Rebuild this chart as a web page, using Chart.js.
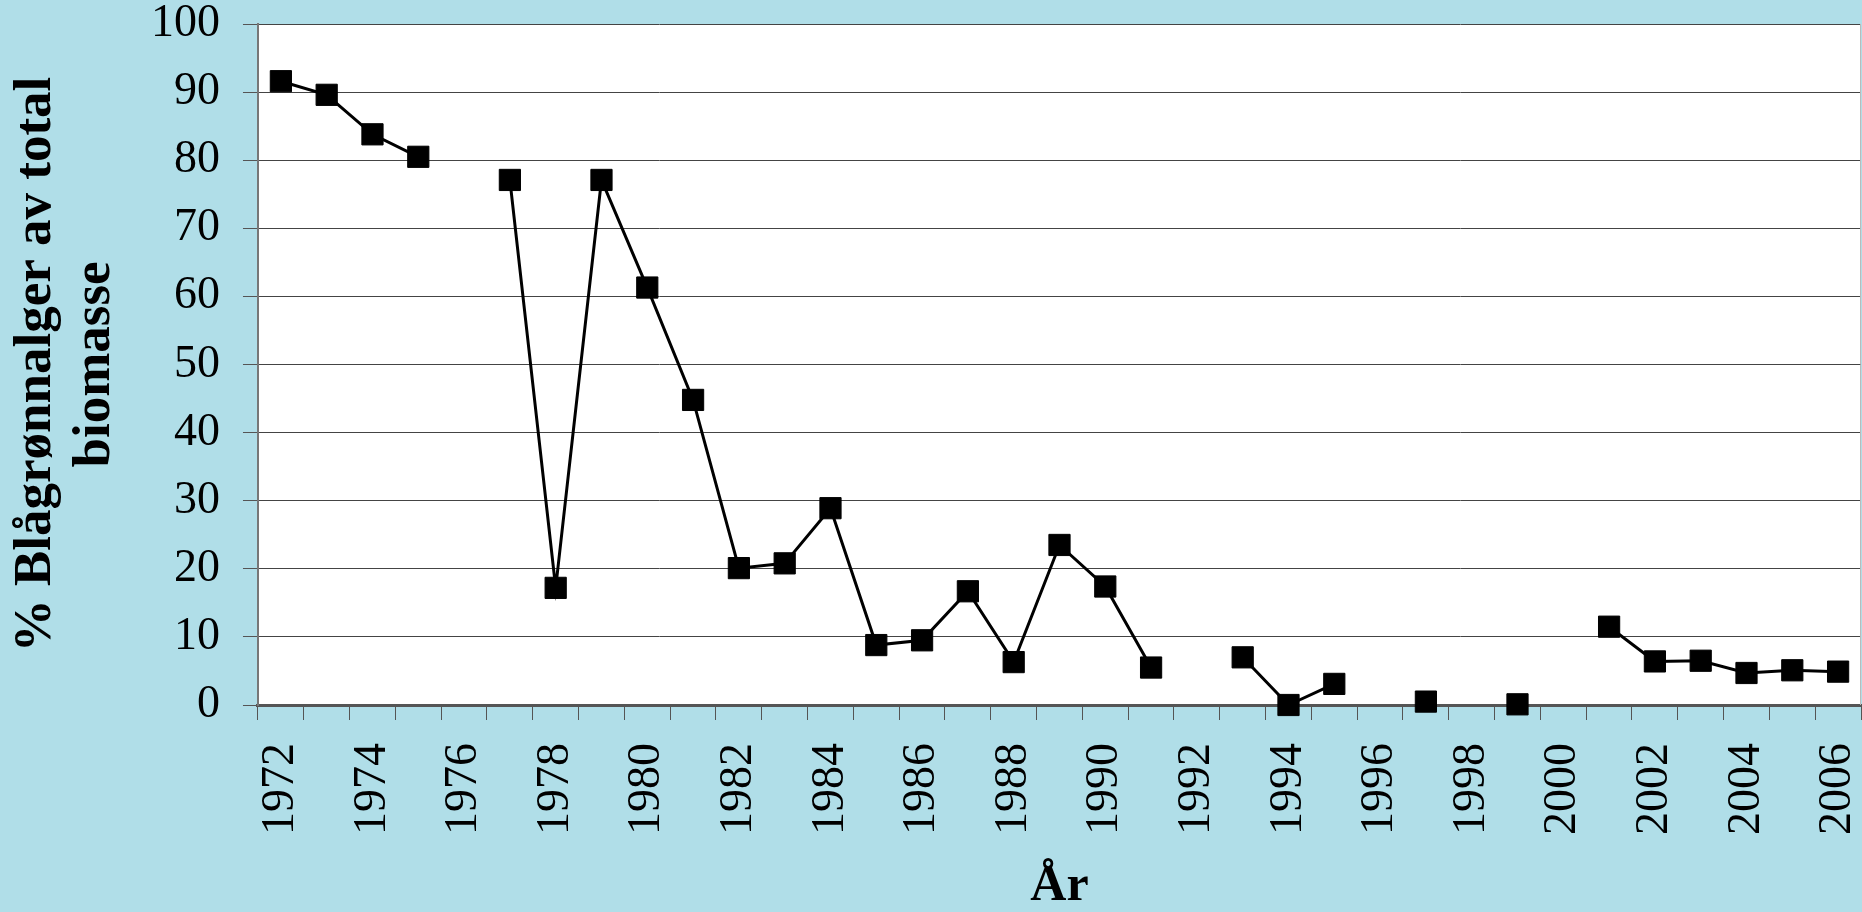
<!DOCTYPE html>
<html>
<head>
<meta charset="utf-8">
<script src="https://cdn.jsdelivr.net/npm/chart.js@4.4.0/dist/chart.umd.min.js"></script>
<style>
  html, body { margin: 0; padding: 0; background: #b0dee8; }
  #wrap { width: 1862px; height: 912px; }
</style>
</head>
<body>
<div id="wrap"><canvas id="bio"></canvas></div>
<script>
// Data
var years = ['1972', '1973', '1974', '1975', '1976', '1977', '1978', '1979', '1980', '1981',
  '1982', '1983', '1984', '1985', '1986', '1987', '1988', '1989', '1990', '1991',
  '1992', '1993', '1994', '1995', '1996', '1997', '1998', '1999', '2000', '2001',
  '2002', '2003', '2004', '2005', '2006'];
var blaagronn = [91.6, 89.6, 83.8, 80.5, null, 77.1, 17.2, 77.1, 61.3, 44.8,
  20.1, 20.8, 28.9, 8.8, 9.5, 16.7, 6.3, 23.5, 17.4, 5.5,
  null, 7.0, 0.0, 3.1, null, 0.5, null, 0.1, null, 11.5,
  6.4, 6.5, 4.7, 5.1, 4.9];
var yTitle = ['% Blågrønnalger av total', 'biomasse'];
var xTitle = 'År';

//
// background + white plot area
//
var plotBg = {
  id: 'plotBg',
  beforeDraw: function (chart) {
    var c = chart.ctx, a = chart.chartArea;
    c.save();
    c.fillStyle = '#b0dee8';
    c.fillRect(0, 0, chart.width, chart.height);
    c.fillStyle = '#ffffff';
    c.fillRect(a.left, a.top, a.right - a.left, a.bottom - a.top);
    c.restore();
  },
  afterDraw: function (chart) {
    var c = chart.ctx, a = chart.chartArea;
    c.save();
    c.strokeStyle = '#bbbbbb';
    c.lineWidth = 1;
    c.beginPath();
    c.moveTo(a.right - 0.5, a.top);
    c.lineTo(a.right - 0.5, a.bottom);
    c.stroke();
    c.restore();
  }
};

var serif = "'Liberation Serif', 'Times New Roman', serif";

var ctx = document.getElementById('bio').getContext('2d');
var chart = new Chart(ctx, {
  type: 'line',
  data: {
    labels: years,
    datasets: [{
      data: blaagronn,
      borderColor: '#000',
      borderWidth: 3,
      backgroundColor: '#000',
      pointStyle: 'rect',
      pointRadius: 15,
      pointBorderWidth: 1,
      pointBorderColor: '#000',
      spanGaps: false,
      tension: 0,
      clip: false
    }]
  },
  options: {
    responsive: true,
    maintainAspectRatio: false,
    animation: false,
    layout: { autoPadding: false, padding: { top: 24, right: 1, left: 0, bottom: 0 } },
    plugins: {
      legend: { display: false },
      tooltip: { enabled: false }
    },
    scales: {
      x: {
        offset: true,
        afterFit: function (scale) { scale.paddingRight = 0; scale.paddingLeft = 0; },
        grid: { drawOnChartArea: false, offset: true, tickLength: 15, color: '#555', lineWidth: 1 },
        border: { color: '#555', width: 3 },
        ticks: {
          autoSkip: false,
          maxRotation: 90,
          minRotation: 90,
          padding: 23,
          color: '#000',
          font: { family: serif, size: 46, lineHeight: 1 },
          callback: function (v, i) { return i % 2 === 0 ? this.getLabelForValue(v) : ''; }
        },
        title: {
          display: true,
          text: xTitle,
          color: '#000',
          font: { family: serif, size: 50, weight: 'bold', lineHeight: 1 },
          padding: { top: 4, bottom: 0 }
        }
      },
      y: {
        min: 0,
        max: 100,
        afterFit: function (scale) { scale.paddingTop = 0; scale.paddingBottom = 0; },
        ticks: {
          stepSize: 10,
          padding: 23,
          color: '#000',
          font: { family: serif, size: 46, lineHeight: 1 }
        },
        grid: { color: '#444', lineWidth: 1, tickLength: 15, tickColor: '#555' },
        border: { color: '#777', width: 2 },
        title: {
          display: true,
          text: yTitle,
          color: '#000',
          font: { family: serif, size: 53, weight: 'bold', lineHeight: 1.113 },
          padding: { top: 7, bottom: 3 }
        }
      }
    }
  },
  plugins: [plotBg]
});
</script>
</body>
</html>
